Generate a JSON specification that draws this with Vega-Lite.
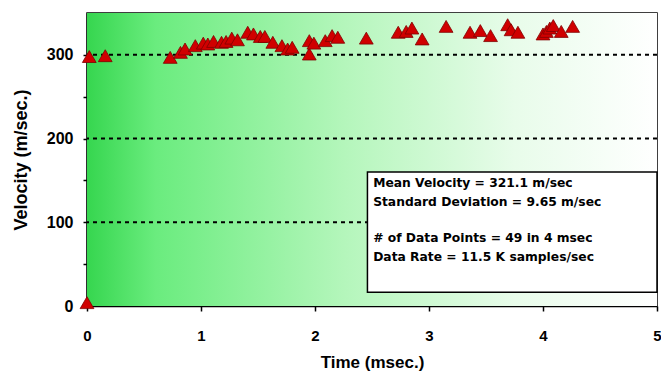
{
  "$schema": "https://vega.github.io/schema/vega-lite/v6.json",
  "width": 570,
  "height": 293,
  "autosize": {"type": "none"},
  "padding": {"left": 87, "top": 13, "right": 4, "bottom": 67},
  "background": "white",
  "config": {
    "view": {"stroke": "black", "strokeWidth": 1.5},
    "font": "Liberation Sans"
  },
  "datasets": {
    "points": [
      {"t": 0.00, "v": 4},
      {"t": 0.02, "v": 298},
      {"t": 0.16, "v": 299},
      {"t": 0.73, "v": 297},
      {"t": 0.82, "v": 303},
      {"t": 0.86, "v": 307},
      {"t": 0.95, "v": 311},
      {"t": 1.02, "v": 314},
      {"t": 1.06, "v": 313},
      {"t": 1.11, "v": 316},
      {"t": 1.18, "v": 315},
      {"t": 1.22, "v": 316},
      {"t": 1.27, "v": 320},
      {"t": 1.32, "v": 318},
      {"t": 1.41, "v": 327},
      {"t": 1.46, "v": 325},
      {"t": 1.52, "v": 322},
      {"t": 1.56, "v": 322},
      {"t": 1.63, "v": 315},
      {"t": 1.71, "v": 311},
      {"t": 1.76, "v": 307},
      {"t": 1.80, "v": 309},
      {"t": 1.95, "v": 301},
      {"t": 1.95, "v": 317},
      {"t": 1.99, "v": 314},
      {"t": 2.09, "v": 317},
      {"t": 2.15, "v": 323},
      {"t": 2.20, "v": 321},
      {"t": 2.45, "v": 320},
      {"t": 2.73, "v": 327},
      {"t": 2.80, "v": 328},
      {"t": 2.85, "v": 332},
      {"t": 2.94, "v": 319},
      {"t": 3.15, "v": 334},
      {"t": 3.36, "v": 327},
      {"t": 3.45, "v": 329},
      {"t": 3.54, "v": 323},
      {"t": 3.69, "v": 336},
      {"t": 3.72, "v": 330},
      {"t": 3.78, "v": 327},
      {"t": 4.00, "v": 325},
      {"t": 4.03, "v": 328},
      {"t": 4.06, "v": 332},
      {"t": 4.09, "v": 335},
      {"t": 4.16, "v": 328},
      {"t": 4.26, "v": 334}
    ],
    "grid": [{"v": 100}, {"v": 200}, {"v": 300}],
    "notes": [
      {"t": 2.51, "v": 147, "label": "Mean Velocity = 321.1 m/sec"},
      {"t": 2.51, "v": 124, "label": "Standard Deviation = 9.65 m/sec"},
      {"t": 2.51, "v": 81, "label": "# of Data Points = 49 in 4 msec"},
      {"t": 2.51, "v": 58.5, "label": "Data Rate = 11.5 K samples/sec"}
    ]
  },
  "layer": [
    {
      "data": {"values": [{"a": 1}]},
      "mark": {
        "type": "rect",
        "fill": {
          "gradient": "linear",
          "x1": 0, "y1": 0, "x2": 1, "y2": 0,
          "stops": [
            {"offset": 0, "color": "#36d64f"},
            {"offset": 0.12, "color": "#6aec7e"},
            {"offset": 0.45, "color": "#b4f6bb"},
            {"offset": 0.75, "color": "#e8fcea"},
            {"offset": 1, "color": "#ffffff"}
          ]
        }
      },
      "encoding": {
        "x": {"datum": 0, "type": "quantitative", "scale": {"domain": [0, 5]},
          "axis": {
            "values": [0, 0.5, 1, 1.5, 2, 2.5, 3, 3.5, 4, 4.5, 5],
            "labelExpr": "datum.value % 1 == 0 ? datum.label : ''",
            "format": "d",
            "grid": false,
            "domainColor": "black",
            "domainWidth": 1.5,
            "tickColor": "black",
            "tickWidth": 1.5,
            "tickSize": 5,
            "labelFont": "Liberation Sans",
            "labelFontWeight": "bold",
            "labelFontSize": 15,
            "labelColor": "black",
            "labelPadding": 17,
            "labelFlush": false,
            "title": "Time (msec.)",
            "titleFont": "Liberation Sans",
            "titleFontSize": 17,
            "titleFontWeight": "bold",
            "titleColor": "black",
            "titlePadding": 11
          }
        },
        "x2": {"datum": 5},
        "y": {"datum": 0, "type": "quantitative", "scale": {"domain": [0, 350]},
          "axis": {
            "values": [0, 50, 100, 150, 200, 250, 300],
            "labelExpr": "datum.value % 100 == 0 ? datum.label : ''",
            "grid": false,
            "domainColor": "black",
            "domainWidth": 1.5,
            "tickColor": "black",
            "tickWidth": 1.5,
            "tickSize": 4,
            "labelFont": "Liberation Sans",
            "labelFontWeight": "bold",
            "labelFontSize": 16,
            "labelColor": "black",
            "labelPadding": 10,
            "title": "Velocity (m/sec.)",
            "titleFont": "Liberation Sans",
            "titleFontSize": 18,
            "titleFontWeight": "bold",
            "titleColor": "black",
            "titlePadding": 16
          }
        },
        "y2": {"datum": 350}
      }
    },
    {
      "data": {"name": "grid"},
      "mark": {"type": "rule", "color": "black", "strokeWidth": 2, "strokeDash": [4, 4]},
      "encoding": {"y": {"field": "v", "type": "quantitative"}}
    },
    {
      "data": {"values": [{"a": 1}]},
      "mark": {"type": "rect", "fill": "white", "stroke": "black", "strokeWidth": 1.5},
      "encoding": {
        "x": {"datum": 2.46, "type": "quantitative"},
        "x2": {"datum": 5},
        "y": {"datum": 16.5, "type": "quantitative"},
        "y2": {"datum": 160}
      }
    },
    {
      "data": {"name": "notes"},
      "mark": {"type": "text", "align": "left", "baseline": "middle", "font": "DejaVu Sans", "fontWeight": "bold", "fontSize": 12.3, "color": "black"},
      "encoding": {
        "x": {"field": "t", "type": "quantitative"},
        "y": {"field": "v", "type": "quantitative"},
        "text": {"field": "label"}
      }
    },
    {
      "data": {"name": "points"},
      "mark": {"type": "point", "shape": "triangle-up", "filled": true, "size": 190, "color": "#d00000", "stroke": "#800000", "strokeWidth": 0.8, "opacity": 1},
      "encoding": {
        "x": {"field": "t", "type": "quantitative"},
        "y": {"field": "v", "type": "quantitative"}
      }
    }
  ]
}
